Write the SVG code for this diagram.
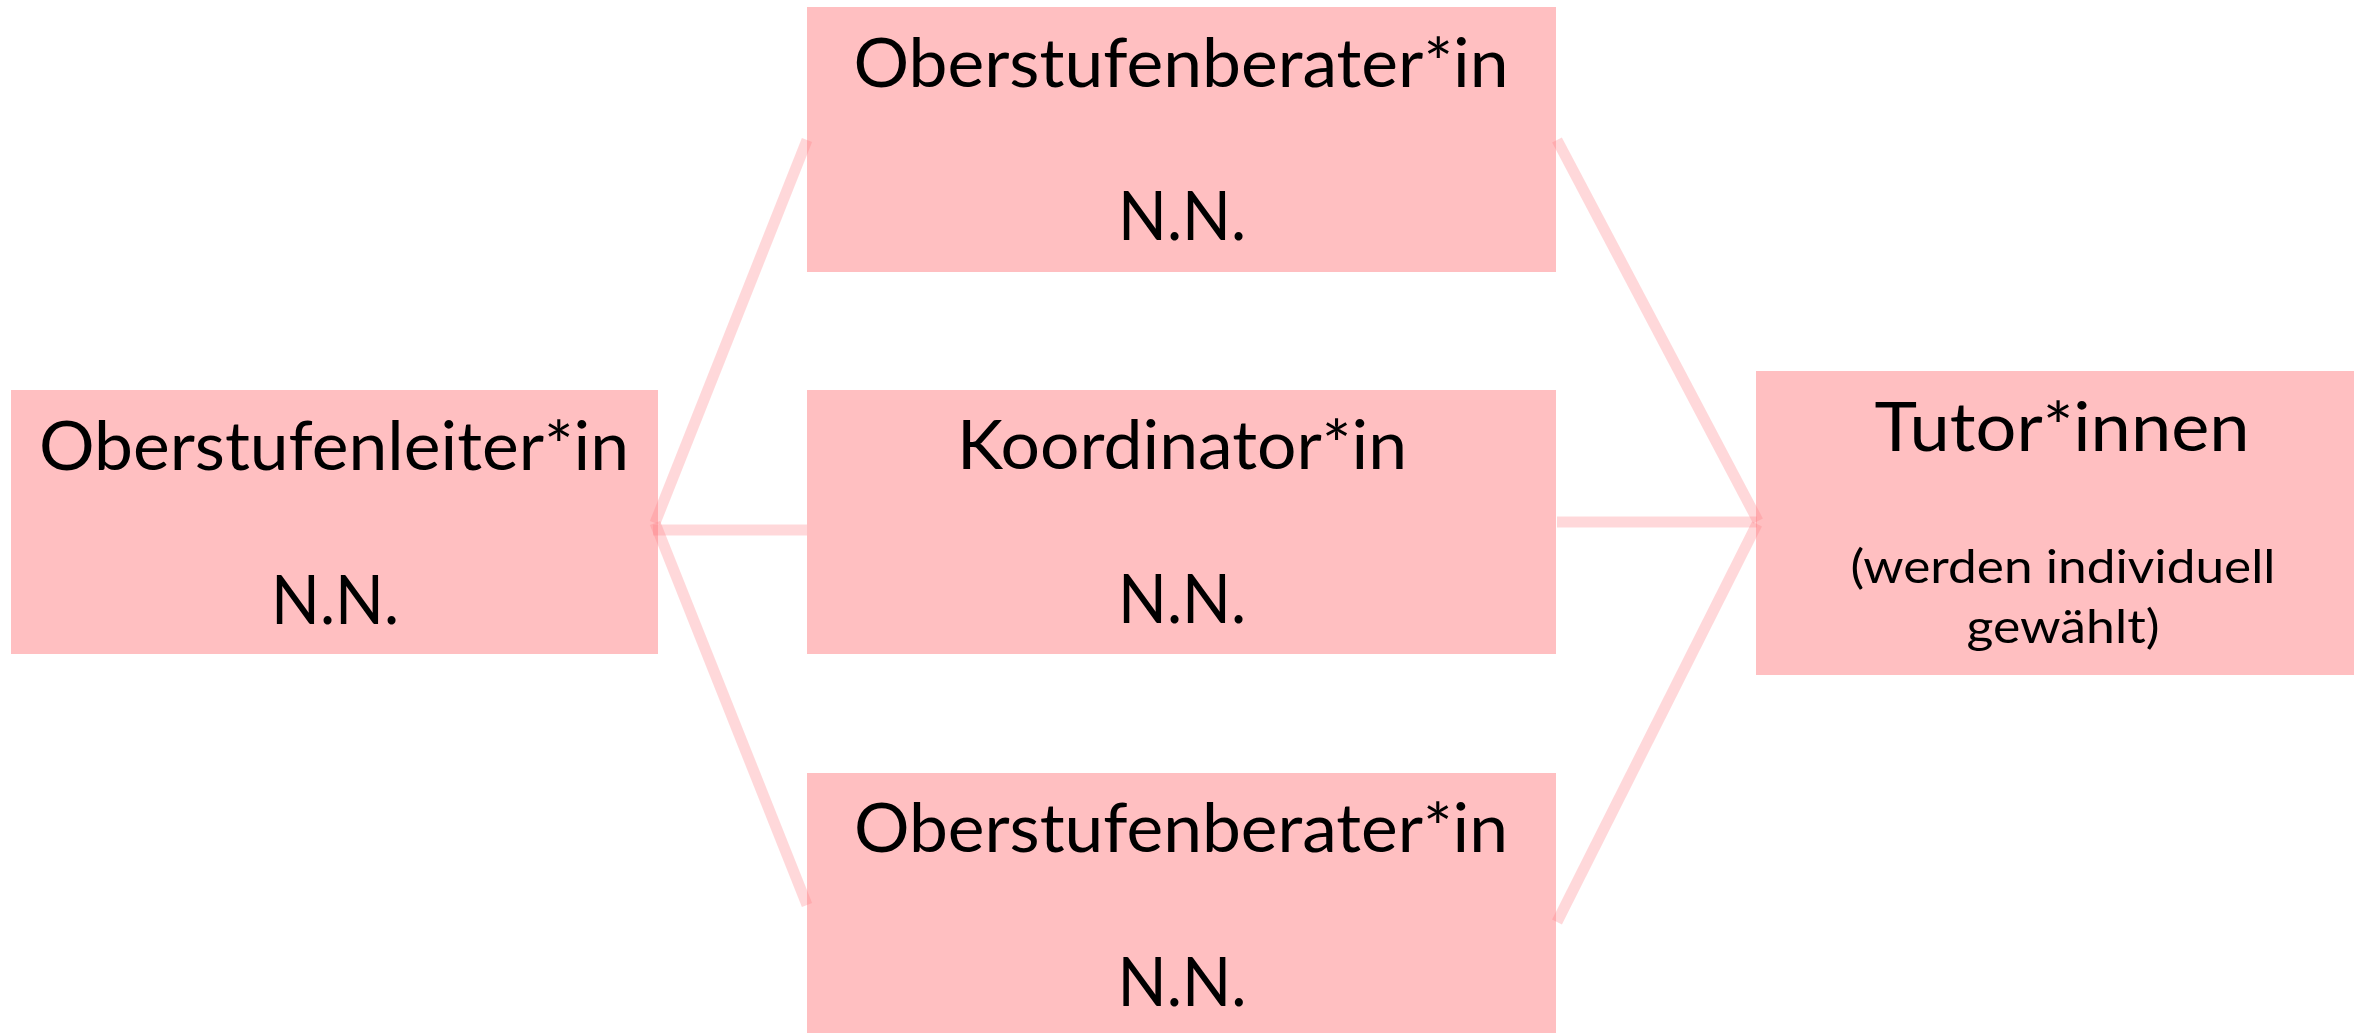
<svg xmlns="http://www.w3.org/2000/svg" width="2369" height="1033" viewBox="0 0 2369 1033">
<style>
.box{fill:#FFBFC1}
.t{font-family:Lato,"Liberation Sans",sans-serif;font-size:67px;fill:#000;text-anchor:middle}
.s{font-family:Lato,"Liberation Sans",sans-serif;font-size:47px;fill:#000;text-anchor:middle}
.c{stroke:#FF7F86;stroke-opacity:0.3;stroke-width:11;fill:none;stroke-linecap:butt}
</style>
<rect width="2369" height="1033" fill="#fff"/>
<g id="node-leiter">
<rect class="box" x="11" y="390" width="647" height="264"/>
<text class="t" x="334" y="470" textLength="590" lengthAdjust="spacingAndGlyphs">Oberstufenleiter*in</text>
<text class="t" x="335" y="624" textLength="128" lengthAdjust="spacingAndGlyphs">N.N.</text>
</g>
<g id="node-berater1">
<rect class="box" x="807" y="7" width="749" height="265"/>
<text class="t" x="1181" y="87" textLength="655" lengthAdjust="spacingAndGlyphs">Oberstufenberater*in</text>
<text class="t" x="1182" y="240" textLength="128" lengthAdjust="spacingAndGlyphs">N.N.</text>
</g>
<g id="node-koordinator">
<rect class="box" x="807" y="390" width="749" height="264"/>
<text class="t" x="1182" y="469" textLength="450" lengthAdjust="spacingAndGlyphs">Koordinator*in</text>
<text class="t" x="1182" y="623" textLength="128" lengthAdjust="spacingAndGlyphs">N.N.</text>
</g>
<g id="node-berater2">
<rect class="box" x="807" y="773" width="749" height="260"/>
<text class="t" x="1181" y="852" textLength="654" lengthAdjust="spacingAndGlyphs">Oberstufenberater*in</text>
<text class="t" x="1182" y="1006" textLength="129" lengthAdjust="spacingAndGlyphs">N.N.</text>
</g>
<g id="node-tutoren">
<rect class="box" x="1756" y="371" width="598" height="304"/>
<text class="t" x="2062" y="451" textLength="375" lengthAdjust="spacingAndGlyphs">Tutor*innen</text>
<text class="s" x="2063" y="583" textLength="425" lengthAdjust="spacingAndGlyphs">(werden individuell</text>
<text class="s" x="2063" y="643" textLength="193" lengthAdjust="spacingAndGlyphs">gewählt)</text>
</g>
<g id="connectors">
<line class="c" x1="807" y1="140" x2="655" y2="523"/>
<line class="c" x1="655" y1="523" x2="807" y2="905"/>
<line class="c" x1="653" y1="530" x2="807" y2="530"/>
<line class="c" x1="1557" y1="140" x2="1758" y2="521"/>
<line class="c" x1="1557" y1="522" x2="1757" y2="522"/>
<line class="c" x1="1757" y1="524" x2="1557" y2="922"/>
</g>
</svg>
